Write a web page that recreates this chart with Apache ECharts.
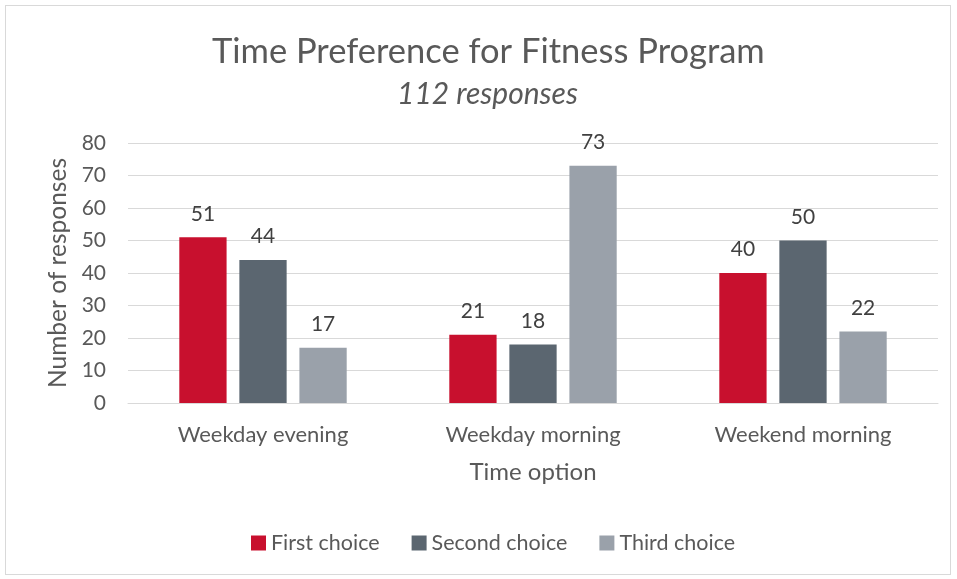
<!DOCTYPE html>
<html>
<head>
<meta charset="utf-8">
<script src="https://cdn.jsdelivr.net/npm/echarts@6/dist/echarts.min.js"></script>
<style>
  html, body { margin: 0; padding: 0; background: #fff; }
  #frame { position: absolute; left: 5px; top: 5px; width: 944px; height: 568px; border: 1px solid #d9d9d9; }
  #chart { position: absolute; left: 0; top: 0; width: 957px; height: 579px; }
</style>
</head>
<body>
<div id="frame"></div>
<div id="chart"></div>
<script>
// data
const categories = ["Weekday evening", "Weekday morning", "Weekend morning"];
const firstChoice = [51, 21, 40];
const secondChoice = [44, 18, 50];
const thirdChoice = [17, 73, 22];
const colors = ["#C8102E", "#5B6670", "#9AA1AA"];

const font = "Lato";
const textColor = "#595959";

const myChart = echarts.init(document.getElementById("chart"));

const label = {
  show: true,
  position: "top",
  distance: 13,
  color: "#404040",
  fontFamily: font,
  fontSize: 21,
};

const option = {
  color: colors,
  title: [
    {
      text: "Time Preference for Fitness Program",
      left: 207,
      top: 29,
      textStyle: { fontFamily: font, fontSize: 34.5, fontWeight: "normal", color: textColor },
    },
    {
      text: "112 responses",
      left: 392,
      top: 74,
      textStyle: { fontFamily: font, fontSize: 30, fontWeight: "normal", fontStyle: "italic", color: textColor },
    },
  ],
  legend: {
    bottom: 20,
    left: 246,
    itemWidth: 15,
    itemHeight: 15,
    itemGap: 32,
    icon: "rect",
    textStyle: { fontFamily: font, fontSize: 21.5, color: textColor },
  },
  grid: {
    left: 128,
    right: 19,
    top: 143,
    bottom: 176,
  },
  xAxis: {
    type: "category",
    data: categories,
    name: "Time option",
    nameLocation: "middle",
    nameGap: 57,
    nameTextStyle: { fontFamily: font, fontSize: 24, color: textColor },
    axisTick: { show: false },
    axisLine: { lineStyle: { color: "#d9d9d9", width: 1 } },
    axisLabel: { margin: 21, fontFamily: font, fontSize: 22, color: textColor },
  },
  yAxis: {
    type: "value",
    min: 0,
    max: 80,
    interval: 10,
    name: "Number of responses",
    nameLocation: "middle",
    nameGap: 54,
    nameTextStyle: { fontFamily: font, fontSize: 24.5, color: textColor },
    axisLine: { show: false },
    axisTick: { show: false },
    axisLabel: { margin: 22, fontFamily: font, fontSize: 21, color: textColor },
    splitLine: { lineStyle: { color: "#d9d9d9", width: 1 } },
  },
  series: [
    { name: "First choice", type: "bar", data: firstChoice, barGap: "27%", barCategoryGap: "38%", label },
    { name: "Second choice", type: "bar", data: secondChoice, barGap: "27%", barCategoryGap: "38%", label },
    { name: "Third choice", type: "bar", data: thirdChoice, barGap: "27%", barCategoryGap: "38%", label },
  ],
};

myChart.setOption(option);
</script>
</body>
</html>
